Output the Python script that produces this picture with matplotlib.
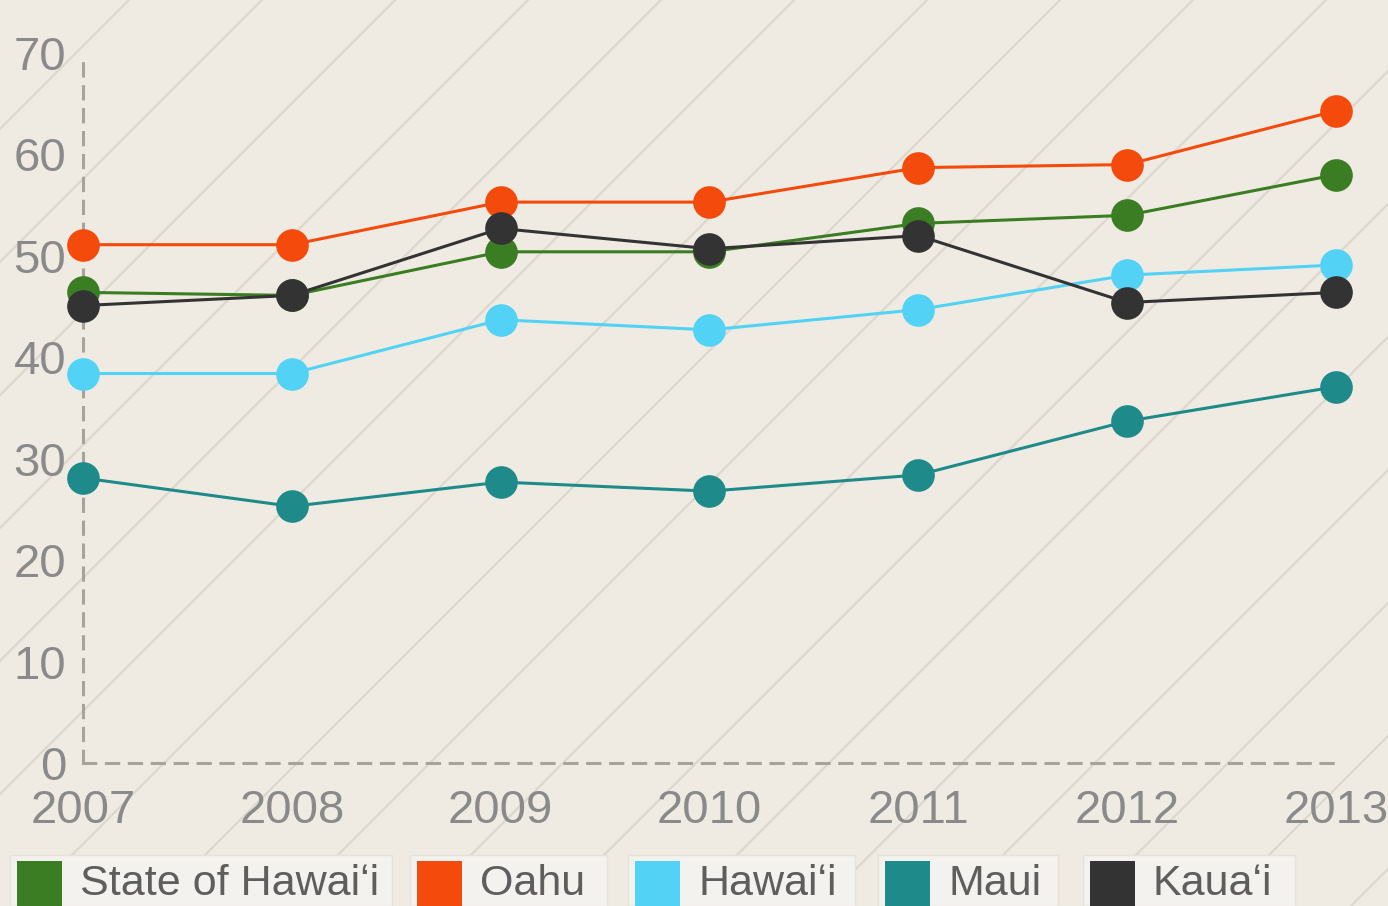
import matplotlib
matplotlib.use("Agg")
import matplotlib.pyplot as plt
from matplotlib.lines import Line2D
from matplotlib.patches import Rectangle

plt.rcParams['font.family'] = ['Liberation Sans', 'DejaVu Sans']

years = [2007, 2008, 2009, 2010, 2011, 2012, 2013]
state = [46.4, 46.1, 50.4, 50.4, 53.2, 54.0, 58.0]
oahu = [51.1, 51.1, 55.3, 55.3, 58.7, 59.0, 64.3]
hawaii = [38.4, 38.4, 43.7, 42.7, 44.7, 48.1, 49.1]
maui = [28.1, 25.3, 27.7, 26.8, 28.4, 33.7, 37.1]
kauai = [45.1, 46.1, 52.7, 50.7, 52.0, 45.4, 46.4]

names = ['State of Hawaiʻi', 'Oahu', 'Hawaiʻi', 'Maui', 'Kauaʻi']
colors = ['#3a7d22', '#f44a0c', '#52d3f5', '#1f8a8a', '#333333']
series = [state, oahu, hawaii, maui, kauai]
y_ticks = [0, 10, 20, 30, 40, 50, 60, 70]

W, H = 1388, 906
bg = '#efebe2'
fig = plt.figure(figsize=(W / 100, H / 100), dpi=100, facecolor=bg)

# diagonal background stripes (pixel coords, y down: x + y = c)
c = 927 - 133 * 14
while c < W + H + 133:
    x0, y0 = c - H, H
    x1, y1 = c, 0
    fig.add_artist(Line2D([x0 / W, x1 / W], [1 - y0 / H, 1 - y1 / H],
                          color='#ddd8ce', lw=1.6, zorder=0))
    c += 133

ax = fig.add_axes([83 / W, (H - 763) / H, (1336 - 83) / W, (763 - 53) / H])
ax.set_facecolor('none')

for vals, col in zip(series, colors):
    ax.plot(years, vals, color=col, lw=2.2, marker='o', markersize=23.5,
            markeredgewidth=0, clip_on=False, zorder=3)

ax.set_xlim(2007, 2013)
ax.set_ylim(0, 70)
ax.set_xticks(years)
ax.set_yticks(y_ticks)
ax.tick_params(length=0, labelcolor='#8a8a8a', labelsize=34)
ax.tick_params(axis='y', pad=12)
ax.tick_params(axis='x', pad=19)

for side in ['top', 'right']:
    ax.spines[side].set_visible(False)
for side in ['left', 'bottom']:
    ax.spines[side].set_color('#a7a39b')
    ax.spines[side].set_linewidth(2.2)
    ax.spines[side].set_linestyle((0, (4, 3.5)))
    ax.spines[side].set_zorder(1)

# legend boxes along the bottom
box_lr = [(10, 392), (410, 607), (628, 855), (878, 1058), (1083, 1295)]
for (l, r), name, col in zip(box_lr, names, colors):
    fig.add_artist(Rectangle((l / W, 0), (r - l) / W, (H - 855) / H,
                             transform=fig.transFigure, facecolor='#f4f2ee',
                             edgecolor='#e6e2da', lw=1, zorder=1))
    fig.add_artist(Rectangle(((l + 7) / W, 0), 45 / W, (H - 861) / H,
                             transform=fig.transFigure, facecolor=col,
                             edgecolor='none', zorder=2))
    fig.text((l + 70) / W, (H - 884) / H, name, fontsize=31, color='#5e5e5e',
             va='center', ha='left', zorder=3)

fig.savefig('out.png', dpi=100, facecolor=bg)
